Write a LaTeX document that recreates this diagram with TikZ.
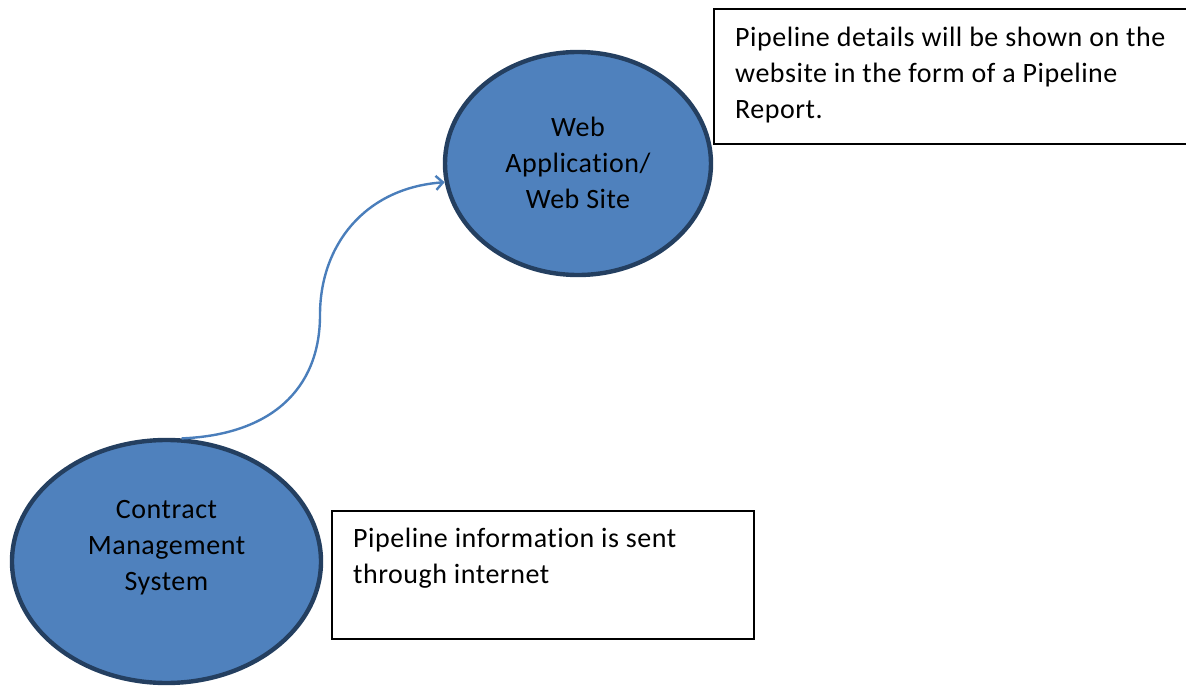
\documentclass[tikz,border=0pt]{standalone}
\usepackage{fontspec}
\setmainfont{Carlito}[LetterSpace=1.9,Ligatures=NoCommon]
\usetikzlibrary{arrows.meta,shapes.geometric}
\definecolor{ellfill}{HTML}{4F81BD}
\definecolor{elldraw}{HTML}{243F60}
\definecolor{arrowblue}{HTML}{4A7EBB}
\begin{document}
\begin{tikzpicture}[x=1pt,y=-1pt,
  ell/.style={ellipse,fill=ellfill,draw=elldraw,line width=4.4pt,inner sep=0pt},
  txt/.style={font=\fontsize{28}{36}\selectfont,align=center,inner sep=0pt},
  boxtxt/.style={font=\fontsize{28}{36}\selectfont,align=left,inner sep=0pt,anchor=north west},
  notebox/.style={draw=black,line width=1.8pt,anchor=north west,inner sep=0pt},
  flow/.style={draw=arrowblue,line width=2.4pt,-{Straight Barb[length=7pt,width=14pt,line width=2.4pt]}}
]
\useasboundingbox (0,0) rectangle (1186,687);
\node[ell,minimum width=266pt,minimum height=223pt] (web) at (578,163.5) {};
\node[txt] (webtxt) at (578,162.5) {Web\\Application/\\Web Site};
\node[ell,minimum width=309pt,minimum height=243pt] (cms) at (166.5,561.5) {};
\node[txt] (cmstxt) at (166.5,548) {Contract\\Management\\System};
\node[notebox,minimum width=476pt,minimum height=135pt] (topbox) at (713,8) {};
\node[boxtxt] (toptxt) at (735,27) {Pipeline details will be shown on the\\website in the form of a Pipeline\\Report.};
\node[notebox,minimum width=422pt,minimum height=128pt] (botbox) at (331,510) {};
\node[boxtxt] (bottxt) at (353,528) {Pipeline information is sent\\through internet};
\draw[flow] (cms.83) .. controls (270,435) and (320,390) .. (320,315)
  .. controls (320,245) and (365,188) .. (web.188);
\end{tikzpicture}
\end{document}
